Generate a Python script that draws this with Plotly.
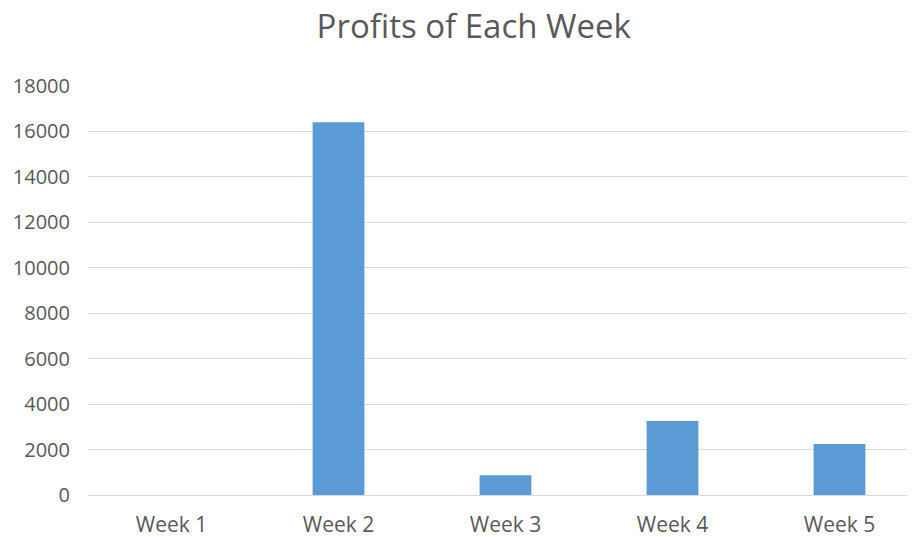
import plotly.graph_objects as go

weeks = ['Week 1', 'Week 2', 'Week 3', 'Week 4', 'Week 5']
profits = [0, 16410, 870, 3255, 2245]
y_ticks = [0, 2000, 4000, 6000, 8000, 10000, 12000, 14000, 16000, 18000]
y_labels = [str(v) for v in y_ticks]

fig = go.Figure(go.Bar(x=weeks, y=profits, marker_color='#5B9BD5',
                       marker_line_width=0))

# page body has an 8px margin, so offsets are shifted by that
fig.update_layout(
    width=915, height=537,
    margin=dict(l=80, r=0, t=78, b=50, autoexpand=False),
    paper_bgcolor='white', plot_bgcolor='white',
    bargap=0.69,
    showlegend=False,
    title=dict(text='Profits of Each Week', x=0.509, xanchor='center',
               y=0.9655, yanchor='middle',
               font=dict(family='Open Sans', size=33, color='#595959')),
    font=dict(family='Open Sans', size=20, color='#595959'),
)
fig.update_xaxes(range=[-0.5, 4.5], showgrid=False, showline=False,
                 ticks='', ticklabelstandoff=15, automargin=False,
                 tickfont=dict(size=21))
fig.update_yaxes(range=[0, 18000], tickvals=y_ticks, ticktext=y_labels,
                 showgrid=True, gridcolor='#D9D9D9', gridwidth=1,
                 zeroline=True, zerolinecolor='#D9D9D9', zerolinewidth=1,
                 ticks='', ticklabelstandoff=17, showline=False,
                 automargin=False)

fig.write_html("out.html")
